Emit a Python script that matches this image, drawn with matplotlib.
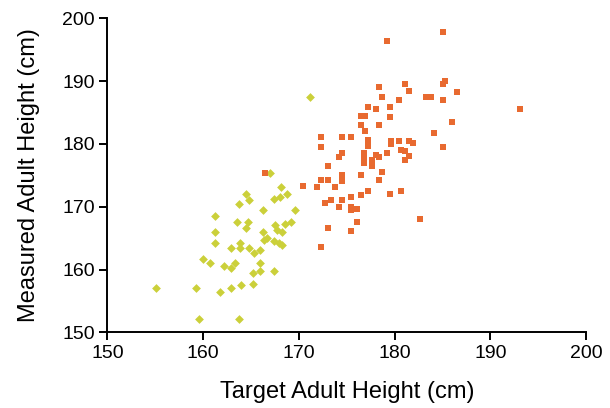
import matplotlib
matplotlib.use("Agg")
import matplotlib.pyplot as plt

# yellow diamonds
target_y = [167.0, 168.1, 164.5, 168.8, 168.0, 167.4, 164.8, 163.7, 169.6, 166.3,
            161.2, 163.5, 164.7, 164.5, 169.2, 168.5, 167.5, 167.7, 168.2, 166.2,
            161.2, 166.7, 166.4, 161.2, 163.8, 162.9, 163.9, 164.8, 167.4, 167.9,
            168.2, 165.3, 165.9, 160.0, 160.7, 162.2, 162.9, 163.3, 165.9, 165.9,
            165.2, 167.4, 155.1, 159.3, 161.8, 162.9, 164.0, 165.2, 159.6, 163.7,
            171.2]
measured_y = [175.4, 173.1, 172.1, 172.0, 171.5, 171.2, 171.1, 170.5, 169.5, 169.5,
              168.5, 167.6, 167.6, 166.6, 167.6, 167.2, 167.1, 166.3, 166.0, 166.0,
              165.9, 165.1, 164.7, 164.2, 164.2, 163.5, 163.5, 163.5, 164.6, 164.2,
              163.9, 162.7, 163.1, 161.6, 161.0, 160.6, 160.2, 161.1, 161.0, 159.7,
              159.4, 159.7, 157.1, 157.1, 156.5, 157.1, 157.5, 157.7, 152.1, 152.1,
              187.5]

# orange squares
target_o = [185.0, 179.2, 185.3, 185.0, 181.1, 178.4, 181.5, 186.5, 178.7, 183.3,
            183.8, 180.4, 185.0, 177.2, 178.0, 179.5, 193.1, 176.5, 176.9, 179.5,
            186.0, 176.5, 178.4, 176.9, 184.1, 172.3, 174.5, 175.4, 177.2, 179.6,
            180.4, 181.5, 181.9, 179.6, 172.3, 177.2, 185.0, 180.7, 181.1, 174.5,
            176.8, 179.2, 174.2, 178.0, 178.4, 181.5, 176.8, 177.6, 181.1, 176.8,
            177.6, 173.0, 176.5, 174.5, 178.7, 174.5, 178.4, 172.3, 173.0, 170.4,
            171.9, 173.8, 172.7, 173.4, 174.5, 174.2, 175.4, 175.4, 175.4, 176.1,
            176.5, 177.2, 179.5, 180.7, 176.1, 173.0, 175.4, 182.6, 172.3, 166.5]
measured_o = [197.8, 196.4, 190.0, 189.5, 189.5, 189.0, 188.4, 188.3, 187.4, 187.4,
              187.4, 187.0, 187.0, 185.9, 185.5, 185.9, 185.5, 184.5, 184.5, 184.3,
              183.5, 183.0, 183.0, 182.1, 181.7, 181.1, 181.1, 181.1, 180.6, 180.5,
              180.5, 180.5, 180.1, 180.0, 179.5, 179.7, 179.5, 179.0, 178.8, 178.5,
              178.5, 178.5, 177.9, 178.2, 177.9, 178.1, 177.7, 177.4, 177.4, 176.9,
              176.5, 176.5, 175.0, 175.0, 175.5, 174.1, 174.3, 174.3, 174.3, 173.3,
              173.2, 173.2, 170.6, 171.1, 171.1, 170.0, 171.6, 170.0, 169.5, 169.6,
              171.9, 172.5, 172.1, 172.5, 167.6, 166.6, 166.1, 168.0, 163.6, 175.4]

plt.rcParams['font.family'] = ['Liberation Sans', 'DejaVu Sans']

fig = plt.figure(figsize=(6.1, 4.08), dpi=100)
ax = fig.add_axes([0.176, 0.1855, 0.785, 0.7695])

ax.scatter(target_y, measured_y, marker='D', s=20, c='#cbd03a', linewidths=0)
ax.scatter(target_o, measured_o, marker='s', s=20, c='#e86a30', linewidths=0)

ax.set_xlim(150, 200)
ax.set_ylim(150, 200)
ax.set_xticks(range(150, 201, 10))
ax.set_yticks(range(150, 201, 10))
ax.spines['top'].set_visible(False)
ax.spines['right'].set_visible(False)
ax.spines['left'].set_linewidth(1.4)
ax.spines['bottom'].set_linewidth(1.4)
ax.tick_params(direction='out', length=6, width=1.4, labelsize=14, pad=3)
ax.set_xlabel('Target Adult Height (cm)', fontsize=17, labelpad=14)
ax.set_ylabel('Measured Adult Height (cm)', fontsize=17, labelpad=16)

fig.savefig('out.png', dpi=100)
